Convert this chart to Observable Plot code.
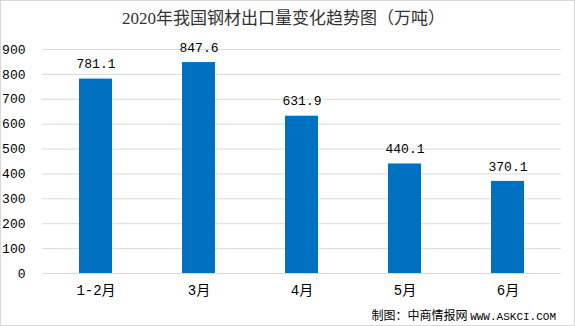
<!DOCTYPE html>
<html><head><meta charset="utf-8">
<script src="https://cdn.jsdelivr.net/npm/d3@7"></script>
<script src="https://cdn.jsdelivr.net/npm/@observablehq/plot@0.6"></script>
<style>
html,body{margin:0;padding:0;background:#fff;}
#wrap{position:relative;width:575px;height:326px;box-sizing:border-box;border:1px solid #d9d9d9;overflow:hidden;}
#title{height:35px;line-height:36px;text-align:center;font-family:"Liberation Serif","Noto Sans CJK SC",serif;font-size:17px;color:#333;padding-right:8px;}
#caption{position:absolute;right:18px;bottom:2px;font-family:"Noto Sans CJK SC","Liberation Mono",monospace;font-size:12px;color:#000;}
#caption .u{font-family:"Liberation Mono",monospace;font-size:11px;}
</style></head>
<body>
<div id="wrap">
<div id="title">2020年我国钢材出口量变化趋势图（万吨）</div>
<div id="chart"></div>
<div id="caption">制图：中商情报网 <span class="u">WWW.ASKCI.COM</span></div>
</div>
<script>
const months = ["1-2月","3月","4月","5月","6月"];
const exports = [781.1, 847.6, 631.9, 440.1, 370.1];
const yTicks = [0,100,200,300,400,500,600,700,800,900];

const data = months.map((m,i)=>({month:m, value:exports[i]}));

const chart = Plot.plot({
  width: 573,
  height: 270,
  marginTop: 13,
  marginBottom: 33,
  marginLeft: 41,
  marginRight: 13,
  style: {fontFamily: "'Liberation Mono', 'Noto Sans CJK SC', monospace", fontSize: "13px", color: "#000", background: "transparent"},
  x: {domain: months, paddingInner: 0.68, paddingOuter: 0.34, label: null, tickSize: 0, tickPadding: 12},
  y: {domain: [0, 900], ticks: yTicks, label: null, tickSize: 0, tickPadding: 17},
  marks: [
    Plot.gridY(yTicks, {stroke: "#d9d9d9", strokeOpacity: 1}),
    Plot.barY(data, {x: "month", y: "value", fill: "#0070C0"}),
    Plot.text(data, {x: "month", y: "value", text: d => d.value.toFixed(1), dy: -15, fontSize: 13, fill: "#000"}),
    Plot.axisX({tickSize: 0, tickPadding: 12, fontSize: 14, fontFamily: "'Liberation Mono','Noto Sans CJK SC',monospace"}),
    Plot.axisY({ticks: yTicks, tickSize: 0, tickPadding: 17, fontSize: 13})
  ]
});
document.getElementById("chart").appendChild(chart);
</script>
</body></html>
